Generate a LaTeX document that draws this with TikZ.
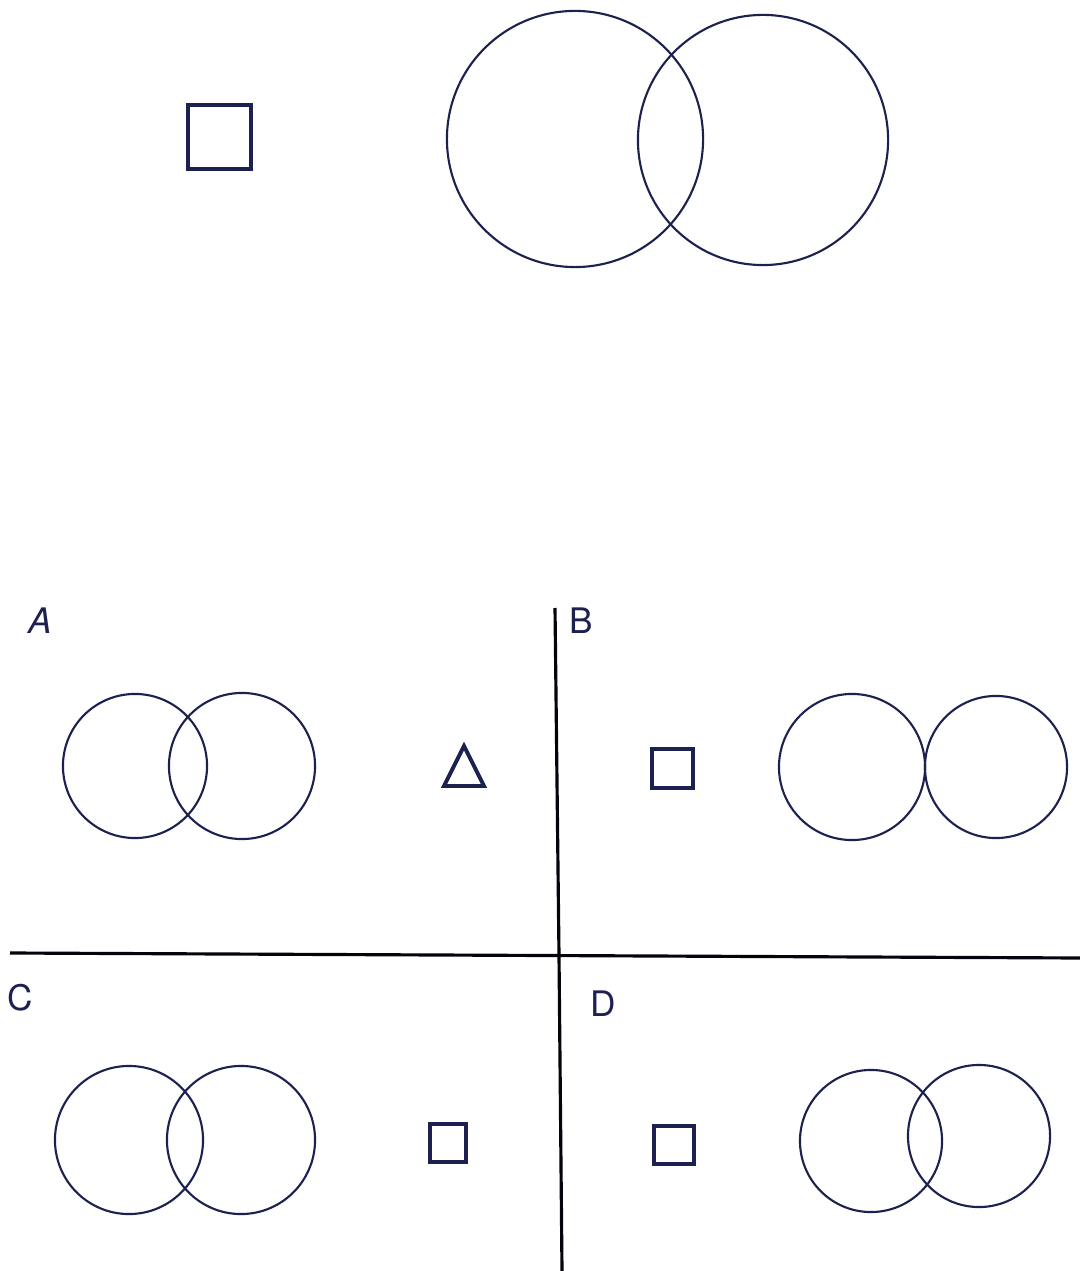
\documentclass[tikz,border=0pt]{standalone}
\usepackage{fontspec}
\setmainfont{TeX Gyre Heros}
\definecolor{ink}{HTML}{1C2150}
\begin{document}
\begin{tikzpicture}[x=0.01cm,y=-0.01cm,
  ring/.style={draw=ink,line width=0.6pt},
  boxshape/.style={draw=ink,line width=1.1pt},
  divider/.style={draw=black!85!ink,line width=0.9pt},
  lbl/.style={text=ink,font=\fontsize{10}{12}\selectfont,inner sep=0pt}]
\useasboundingbox[fill=white] (0,0) rectangle (1080,1271);
% top
\draw[boxshape] (188,105) rectangle (251,169);
\draw[ring] (575,139) circle[radius=1.28cm];
\draw[ring] (763,140) circle[radius=1.25cm];
% dividers
\draw[divider] (555,608) -- (559,956);
\draw[divider] (10,953) -- (1080,958);
\draw[divider] (559,956) -- (562,1271);
% A
\node[lbl,font=\fontsize{10}{12}\selectfont\itshape] (la) at (40,621) {A};
\draw[ring] (135,766) circle[radius=0.72cm];
\draw[ring] (242,766) circle[radius=0.73cm];
\draw[boxshape] (464,746) -- (444,786) -- (484,786) -- cycle;
% B
\node[lbl] (lb) at (581,621) {B};
\draw[boxshape] (652,749) rectangle (693,788);
\draw[ring] (852,767) circle[radius=0.73cm];
\draw[ring] (996,767) circle[radius=0.71cm];
% C
\node[lbl] (lc) at (20,998) {C};
\draw[ring] (129,1140) circle[radius=0.74cm];
\draw[ring] (241,1140) circle[radius=0.74cm];
\draw[boxshape] (430,1124) rectangle (466,1162);
% D
\node[lbl] (ld) at (603,1004) {D};
\draw[boxshape] (654,1126) rectangle (694,1164);
\draw[ring] (871,1141) circle[radius=0.71cm];
\draw[ring] (979,1136) circle[radius=0.71cm];
\end{tikzpicture}
\end{document}
